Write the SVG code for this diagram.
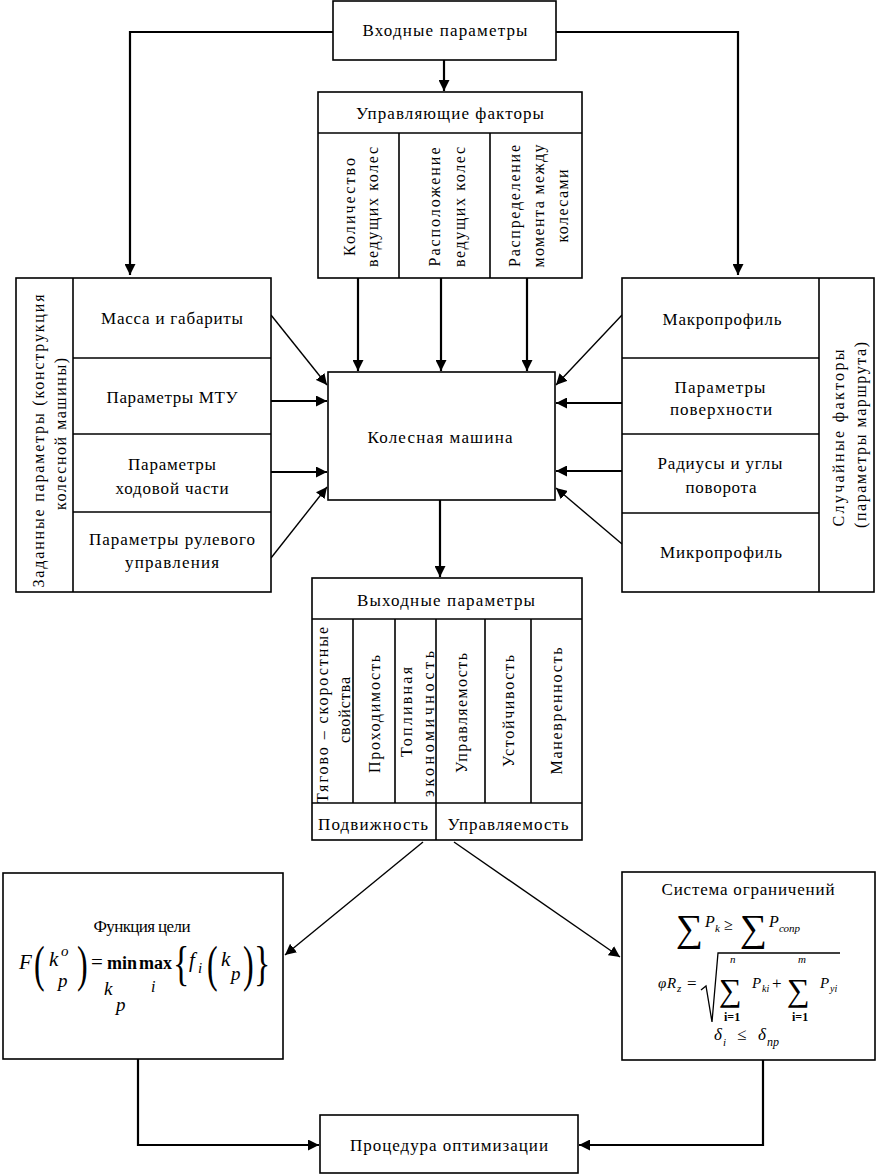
<svg xmlns="http://www.w3.org/2000/svg" width="878" height="1175" viewBox="0 0 878 1175">
<defs>
<style>
.box{fill:#fff;stroke:#000;stroke-width:1.6}
.ln{stroke:#000;stroke-width:1.6;fill:none}
.t{font-family:'Liberation Serif','Times New Roman','DejaVu Serif',serif;font-size:17px;fill:#000;text-anchor:middle;dominant-baseline:central}
.tv{font-family:'Liberation Serif','Times New Roman','DejaVu Serif',serif;font-size:16px;fill:#000;text-anchor:middle;dominant-baseline:central}
.m{font-family:'Liberation Serif','Times New Roman','DejaVu Serif',serif;fill:#000}
.i{font-style:italic}
.c{stroke:#000;stroke-width:2.2;fill:none}
.cd{stroke:#000;stroke-width:1.4;fill:none}
</style>
<marker id="ah" viewBox="0 0 10 10" refX="10" refY="5" markerWidth="11" markerHeight="11" markerUnits="userSpaceOnUse" orient="auto">
<path d="M0,0 L10,5 L0,10 z" fill="#000"/>
</marker>
</defs>
<rect width="878" height="1175" fill="#fff"/>

<g id="connectors">
<path class="c" d="M333,32 H130 V275" marker-end="url(#ah)"/>
<path class="c" d="M556,32 H738 V275" marker-end="url(#ah)"/>
<path class="c" d="M444,60 V91" marker-end="url(#ah)"/>
<path class="c" d="M358,278 V371" marker-end="url(#ah)"/>
<path class="c" d="M441,278 V371" marker-end="url(#ah)"/>
<path class="c" d="M527,278 V371" marker-end="url(#ah)"/>
<path class="cd" d="M271,315 L327,385" marker-end="url(#ah)"/>
<path class="c" d="M271,401 H327" marker-end="url(#ah)"/>
<path class="c" d="M271,472 H327" marker-end="url(#ah)"/>
<path class="cd" d="M271,558 L327,487" marker-end="url(#ah)"/>
<path class="cd" d="M622,315 L556,385" marker-end="url(#ah)"/>
<path class="c" d="M622,403 H556" marker-end="url(#ah)"/>
<path class="c" d="M622,471 H556" marker-end="url(#ah)"/>
<path class="cd" d="M622,544 L556,488" marker-end="url(#ah)"/>
<path class="c" d="M440,500 V577" marker-end="url(#ah)"/>
<path class="cd" d="M423,842 L285,955" marker-end="url(#ah)"/>
<path class="cd" d="M454,842 L620,957" marker-end="url(#ah)"/>
<path class="c" d="M138,1059 V1145 H319" marker-end="url(#ah)"/>
<path class="c" d="M763,1060 V1145 H579" marker-end="url(#ah)"/>
</g>

<g id="input">
<rect class="box" x="333" y="1" width="223" height="59"/>
<text class="t" x="445" y="30" textLength="165">Входные параметры</text>
</g>

<g id="control">
<rect class="box" x="318" y="92" width="264" height="186"/>
<line class="ln" x1="318" y1="133" x2="582" y2="133"/>
<line class="ln" x1="399" y1="133" x2="399" y2="278"/>
<line class="ln" x1="490" y1="133" x2="490" y2="278"/>
<text class="t" x="450" y="113" textLength="188">Управляющие факторы</text>
<text class="tv" transform="translate(349,207) rotate(-90)" textLength="98">Количество</text>
<text class="tv" transform="translate(372,207) rotate(-90)" textLength="120">ведущих колес</text>
<text class="tv" transform="translate(434,207) rotate(-90)" textLength="119">Расположение</text>
<text class="tv" transform="translate(459,207) rotate(-90)" textLength="120">ведущих колес</text>
<text class="tv" transform="translate(514,206) rotate(-90)" textLength="122">Распределение</text>
<text class="tv" transform="translate(538,206) rotate(-90)" textLength="123">момента между</text>
<text class="tv" transform="translate(562,206) rotate(-90)" textLength="73">колесами</text>
</g>

<g id="given">
<rect class="box" x="16" y="278" width="255" height="314"/>
<line class="ln" x1="73" y1="278" x2="73" y2="592"/>
<line class="ln" x1="73" y1="358" x2="271" y2="358"/>
<line class="ln" x1="73" y1="434" x2="271" y2="434"/>
<line class="ln" x1="73" y1="512" x2="271" y2="512"/>
<text class="tv" transform="translate(38,441) rotate(-90)" textLength="293">Заданные параметры (конструкция</text>
<text class="tv" transform="translate(60,434) rotate(-90)" textLength="152">колесной машины)</text>
<text class="t" x="172" y="318" textLength="142">Масса и габариты</text>
<text class="t" x="172" y="397" textLength="131">Параметры МТУ</text>
<text class="t" x="172" y="464" textLength="88">Параметры</text>
<text class="t" x="172" y="488" textLength="113">ходовой части</text>
<text class="t" x="172" y="539" textLength="166">Параметры рулевого</text>
<text class="t" x="172" y="562" textLength="94">управления</text>
</g>

<g id="random">
<rect class="box" x="622" y="278" width="252" height="314"/>
<line class="ln" x1="819" y1="278" x2="819" y2="592"/>
<line class="ln" x1="622" y1="358" x2="819" y2="358"/>
<line class="ln" x1="622" y1="434" x2="819" y2="434"/>
<line class="ln" x1="622" y1="513" x2="819" y2="513"/>
<text class="t" x="722" y="319" textLength="119">Макропрофиль</text>
<text class="t" x="720" y="387" textLength="91">Параметры</text>
<text class="t" x="721" y="409" textLength="102">поверхности</text>
<text class="t" x="720" y="463" textLength="125">Радиусы и углы</text>
<text class="t" x="721" y="487" textLength="71">поворота</text>
<text class="t" x="721" y="552" textLength="122">Микропрофиль</text>
<text class="tv" transform="translate(838,438) rotate(-90)" textLength="177">Случайные факторы</text>
<text class="tv" transform="translate(860,435) rotate(-90)" textLength="186">(параметры маршрута)</text>
</g>

<g id="machine">
<rect class="box" x="328" y="372" width="227" height="128"/>
<text class="t" x="440" y="437" textLength="145">Колесная машина</text>
</g>

<g id="output">
<rect class="box" x="312" y="578" width="270" height="262"/>
<line class="ln" x1="312" y1="619" x2="582" y2="619"/>
<line class="ln" x1="312" y1="803" x2="582" y2="803"/>
<line class="ln" x1="353" y1="619" x2="353" y2="803"/>
<line class="ln" x1="395" y1="619" x2="395" y2="803"/>
<line class="ln" x1="436" y1="619" x2="436" y2="840"/>
<line class="ln" x1="485" y1="619" x2="485" y2="803"/>
<line class="ln" x1="531" y1="619" x2="531" y2="803"/>
<text class="t" x="446" y="600" textLength="178">Выходные параметры</text>
<text class="tv" transform="translate(322,715) rotate(-90)" textLength="176">Тягово – скоростные</text>
<text class="tv" transform="translate(344,710) rotate(-90)" textLength="66">свойства</text>
<text class="tv" transform="translate(374,714) rotate(-90)" textLength="118">Проходимость</text>
<text class="tv" transform="translate(406,712) rotate(-90)" textLength="90">Топливная</text>
<text class="tv" transform="translate(428,724) rotate(-90)" textLength="146">экономичность</text>
<text class="tv" transform="translate(461,713) rotate(-90)" textLength="120">Управляемость</text>
<text class="tv" transform="translate(508,711) rotate(-90)" textLength="112">Устойчивость</text>
<text class="tv" transform="translate(556,711) rotate(-90)" textLength="127">Маневренность</text>
<text class="t" x="373" y="824" textLength="110">Подвижность</text>
<text class="t" x="508" y="824" textLength="121">Управляемость</text>
</g>

<g id="goal">
<rect class="box" x="3" y="873" width="280" height="186"/>
<text class="t" x="142" y="926" textLength="97">Функция цели</text>
<g class="m">
<text class="i" x="19" y="969" font-size="21">F</text>
<text x="34" y="981" font-size="32" transform="translate(34,981) scale(1,1.6) translate(-34,-981)">(</text>
<text class="i" x="49" y="966" font-size="21">k</text>
<text class="i" x="61" y="956" font-size="15">o</text>
<text class="i" x="58" y="987" font-size="19">p</text>
<text x="77" y="981" font-size="32" transform="translate(77,981) scale(1,1.6) translate(-77,-981)">)</text>
<text x="91" y="969" font-size="21">=</text>
<text x="107" y="969" font-size="18" font-weight="bold">min</text>
<text x="139" y="969" font-size="18" font-weight="bold">max</text>
<text class="i" x="104" y="995" font-size="19">k</text>
<text class="i" x="116" y="1011" font-size="19">p</text>
<text class="i" x="151" y="992" font-size="16">i</text>
<text x="173" y="980" font-size="34" transform="translate(173,980) scale(1,1.4) translate(-173,-980)">{</text>
<text class="i" x="189" y="967" font-size="21">f</text>
<text class="i" x="198" y="973" font-size="15">i</text>
<text x="207" y="981" font-size="32" transform="translate(207,981) scale(1,1.6) translate(-207,-981)">(</text>
<text class="i" x="221" y="966" font-size="21">k</text>
<text class="i" x="231" y="980" font-size="19">p</text>
<text x="243" y="981" font-size="32" transform="translate(243,981) scale(1,1.6) translate(-243,-981)">)</text>
<text x="254" y="980" font-size="34" transform="translate(254,980) scale(1,1.4) translate(-254,-980)">}</text>
</g>
</g>

<g id="constraints">
<rect class="box" x="622" y="872" width="253" height="188"/>
<text class="t" x="748" y="889" textLength="173">Система ограничений</text>
<g class="m">
<text x="676" y="941" font-size="38">∑</text>
<text class="i" x="705" y="927" font-size="16">P</text>
<text class="i" x="715" y="932" font-size="11">k</text>
<text x="724" y="930" font-size="16">≥</text>
<text x="740" y="941" font-size="38">∑</text>
<text class="i" x="769" y="927" font-size="16">P</text>
<text class="i" x="779" y="932" font-size="11">сопр</text>
<text class="i" x="658" y="988" font-size="15">φ</text>
<text class="i" x="667" y="988" font-size="15">R</text>
<text class="i" x="677" y="992" font-size="11">z</text>
<text x="687" y="989" font-size="17">=</text>
<path d="M701,990 L706,986 L712,1022 L718,953 L840,953" fill="none" stroke="#000" stroke-width="1.3"/>
<text x="719" y="1001" font-size="32">∑</text>
<text class="i" x="730" y="963" font-size="11">n</text>
<text x="724" y="1021" font-size="12" font-weight="bold">i=1</text>
<text class="i" x="752" y="988" font-size="15">P</text>
<text class="i" x="762" y="992" font-size="10">ki</text>
<text x="772" y="989" font-size="17">+</text>
<text x="787" y="1001" font-size="32">∑</text>
<text class="i" x="798" y="963" font-size="11">m</text>
<text x="792" y="1021" font-size="12" font-weight="bold">i=1</text>
<text class="i" x="820" y="988" font-size="15">P</text>
<text class="i" x="830" y="992" font-size="10">yi</text>
<text class="i" x="714" y="1040" font-size="17">δ</text>
<text class="i" x="723" y="1046" font-size="11">i</text>
<text x="737" y="1040" font-size="17">≤</text>
<text class="i" x="758" y="1040" font-size="17">δ</text>
<text class="i" x="767" y="1046" font-size="12">пр</text>
</g>
</g>

<g id="optimization">
<rect class="box" x="320" y="1115" width="258" height="58"/>
<text class="t" x="449" y="1145" textLength="198">Процедура оптимизации</text>
</g>
</svg>
